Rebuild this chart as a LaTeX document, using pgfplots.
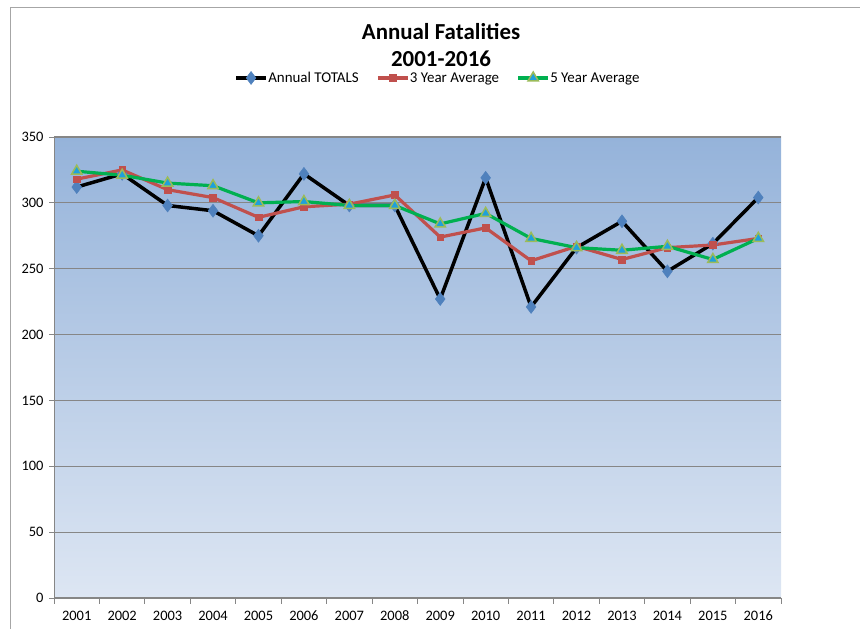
\documentclass[border=0pt]{standalone}
\usepackage{pgfplots}
\pgfplotsset{compat=1.18}
\usepackage{fontspec}
\setmainfont{Carlito}
\definecolor{bgtop}{RGB}{149,179,218}
\definecolor{bgbot}{RGB}{221,230,243}
\definecolor{dblue}{RGB}{79,129,189}
\definecolor{xred}{RGB}{192,80,77}
\definecolor{xgreen}{RGB}{0,176,80}
\definecolor{tfill}{RGB}{31,160,219}
\definecolor{tedge}{RGB}{155,187,89}
\definecolor{gridg}{RGB}{134,134,134}
\begin{document}
\begin{tikzpicture}[x=1bp,y=1bp]
\path[use as bounding box] (0,0) rectangle (860,629);
\draw[gray!70, line width=1bp] (10,0) -- (10,621) -- (860,621);
\node[inner sep=0pt, font=\bfseries\fontsize{23}{25}\selectfont] at (441,597) {Annual Fatalities};
\node[inner sep=0pt, font=\bfseries\fontsize{23}{25}\selectfont] at (441,570) {2001-2016};
\begin{axis}[
  at={(54bp,31bp)}, anchor=south west,
  scale only axis, width=727bp, height=461bp,
  xmin=0.5, xmax=16.5, ymin=0, ymax=350,
  xtick={1,...,16},
  xticklabels={2001,2002,2003,2004,2005,2006,2007,2008,2009,2010,2011,2012,2013,2014,2015,2016},
  minor xtick={0.5,1.5,...,16.5},
  ytick={0,50,...,350},
  major x tick style={draw=none},
  minor x tick style={gridg, line width=0.8bp},
  tick align=outside,
  major tick length=5bp, minor tick length=6bp,
  y tick style={gridg, line width=0.8bp},
  axis x line*=bottom, axis y line*=left,
  axis line style={gridg, line width=0.8bp},
  ymajorgrids, grid style={gridg, line width=1.2bp},
  axis background/.style={shade, top color=bgtop, bottom color=bgbot},
  /pgf/number format/assume math mode=true,
  ticklabel style={font=\fontsize{14.5}{16}\selectfont},
  xticklabel style={anchor=north, text height=10bp, text depth=1bp, yshift=-4bp},
  yticklabel style={xshift=-2bp},
  legend style={at={(0.527,1.128)}, anchor=center, legend columns=3, draw=none, fill=none,
    font=\fontsize{15}{16}\selectfont, inner sep=0pt,
    nodes={inner sep=0.5bp},
    /tikz/every even column/.append style={column sep=17bp}},
  legend image code/.code={\draw[#1] (0bp,0bp) -- (30bp,0bp); \draw[#1, only marks] plot coordinates {(15bp,0bp)};},
  clip=false,
]
\addplot[black, line width=3.5bp, mark=diamond*, mark size=6.5bp, mark options={solid, fill=dblue, draw=dblue, line width=0.5bp}]
coordinates {(1,312)(2,322)(3,298)(4,294)(5,275)(6,322)(7,298)(8,298)(9,227)(10,319)(11,221)(12,266)(13,286)(14,248)(15,269)(16,304)};
\addlegendentry{Annual TOTALS}
\addplot[xred, line width=3.2bp, mark=square*, mark size=3.3bp, mark options={solid, fill=xred, draw=xred, line width=0.5bp}]
coordinates {(1,318)(2,325)(3,310)(4,304)(5,289)(6,297)(7,299)(8,306)(9,274)(10,281)(11,256)(12,267)(13,257)(14,266)(15,268)(16,273)};
\addlegendentry{3 Year Average}
\addplot[xgreen, line width=3.2bp, mark=triangle*, mark size=6bp, mark options={solid, fill=tfill, draw=tedge, line width=1.5bp}]
coordinates {(1,324)(2,321)(3,315)(4,313)(5,300)(6,301)(7,298)(8,298)(9,284)(10,292)(11,273)(12,266)(13,264)(14,267)(15,257)(16,273)};
\addlegendentry{5 Year Average}
\end{axis}
\end{tikzpicture}
\end{document}
